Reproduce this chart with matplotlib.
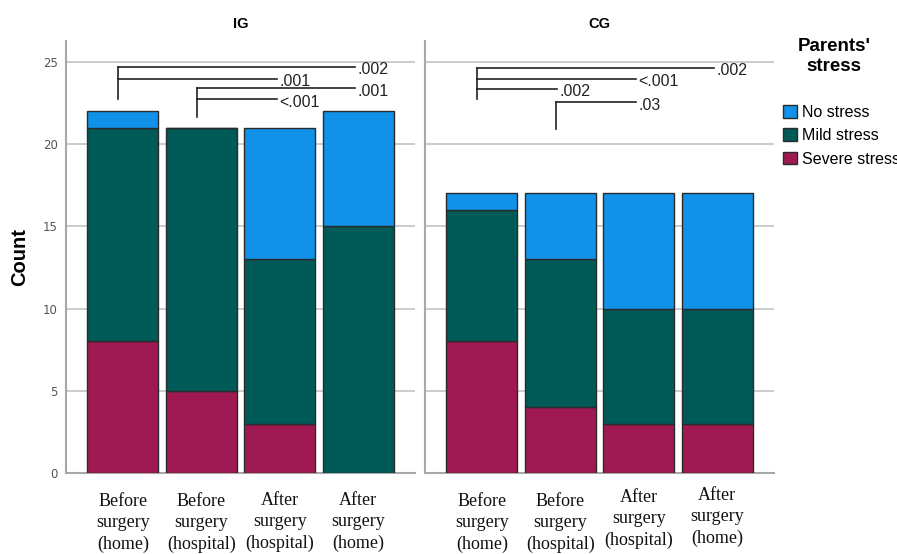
import numpy as np
import matplotlib
matplotlib.use('Agg')
import matplotlib.pyplot as plt
from matplotlib.patches import Patch

# data
groups = ['IG', 'CG']
times = ['Before\nsurgery\n(home)', 'Before\nsurgery\n(hospital)',
         'After\nsurgery\n(hospital)', 'After\nsurgery\n(home)']
levels = ['No stress', 'Mild stress', 'Severe stress']

ig_severe = [8, 5, 3, 0]
ig_mild = [13, 16, 10, 15]
ig_none = [1, 0, 8, 7]

cg_severe = [8, 4, 3, 3]
cg_mild = [8, 9, 7, 7]
cg_none = [1, 4, 7, 7]

# pairwise comparisons (bar i, bar j, p value, bracket height)
ig_pairs = [(0, 3), (0, 2), (1, 3), (1, 2)]
ig_pvals = ['.002', '.001', '.001', '<.001']
ig_heights = [24.7, 23.97, 23.39, 22.72]
ig_stem_low = {0: 22.72, 1: 21.62}
cg_pairs = [(0, 3), (0, 2), (0, 1), (1, 2)]
cg_pvals = ['.002', '<.001', '.002', '.03']
cg_heights = [24.64, 23.95, 23.34, 22.53]
cg_stem_low = {0: 22.72, 1: 20.89}

col_none = '#1192e8'
col_mild = '#005a58'
col_severe = '#9f1a52'
grid_col = '#cccccc'
spine_col = '#a8a8a8'

fig = plt.figure(figsize=(8.97, 5.54), dpi=100)
W, H = 897.0, 554.0
ax_bottom = (H - 473) / H
ax_h = (473 - 40.7) / H
ax1 = fig.add_axes([66 / W, ax_bottom, 349 / W, ax_h])
ax2 = fig.add_axes([425 / W, ax_bottom, 349 / W, ax_h])

x = np.arange(len(times))
ax_px_h = 473 - 40.7
label_shift = {'IG': [0, 0, -1, -1], 'CG': [0, 0, -4, -6]}


def draw_panel(ax, name, severe, mild, none, pairs, pvals, heights, stem_low, show_y):
    severe = np.array(severe)
    mild = np.array(mild)
    none = np.array(none)
    ax.set_axisbelow(True)
    ax.yaxis.grid(True, color=grid_col, lw=1.4)
    ax.bar(x, severe, 0.9, color=col_severe, edgecolor='#2a2a2a', lw=1, zorder=3)
    ax.bar(x, mild, 0.9, bottom=severe, color=col_mild, edgecolor='#2a2a2a', lw=1, zorder=3)
    ax.bar(x, none, 0.9, bottom=severe + mild, color=col_none, edgecolor='#2a2a2a', lw=1, zorder=3)
    ax.set_xlim(-0.723, 3.723)
    ax.set_ylim(0, 26.28)
    ax.set_yticks([0, 5, 10, 15, 20, 25])
    ax.set_xticks([])
    for s in ['top', 'right']:
        ax.spines[s].set_visible(False)
    for s in ['left', 'bottom']:
        ax.spines[s].set_color(spine_col)
        ax.spines[s].set_linewidth(1.5)
    ax.tick_params(axis='y', length=0, pad=6, labelsize=8.5, labelcolor='#555555')
    if not show_y:
        ax.set_yticklabels([])
    ax.set_title(name, fontsize=10.5, fontweight='bold', pad=9, family='Liberation Sans')
    # category labels below bars
    for i, t in enumerate(times):
        dy = label_shift[name][i]
        ax.text(x[i], -(493 - 473 + dy) / ax_px_h, t, transform=ax.get_xaxis_transform(),
                ha='center', va='top', fontsize=13, family='Liberation Serif',
                linespacing=1.34, color='#111111')
    # comparison brackets
    tops = {}
    for (i, j), p, h in zip(pairs, pvals, heights):
        x0 = i - 0.06
        x1 = j - 0.04
        ax.plot([x0, x1], [h, h], color='#222222', lw=1.2, zorder=4)
        tops[i] = max(tops.get(i, 0), h)
        ax.annotate(p, (x1, h), xytext=(2, -2), textcoords='offset points',
                    ha='left', va='center', fontsize=11.5, family='Liberation Sans',
                    color='#222222')
    for i, top in tops.items():
        ax.plot([i - 0.06, i - 0.06], [stem_low[i], top], color='#222222', lw=1.2, zorder=4)


draw_panel(ax1, 'IG', ig_severe, ig_mild, ig_none, ig_pairs, ig_pvals, ig_heights, ig_stem_low, True)
draw_panel(ax2, 'CG', cg_severe, cg_mild, cg_none, cg_pairs, cg_pvals, cg_heights, cg_stem_low, False)

ax1.set_ylabel('Count', fontsize=14.5, fontweight='bold', family='Liberation Sans', labelpad=10)

# legend (the last label runs off the right edge, as in the original)
fig.text(834 / W, 1 - 56.5 / H, "Parents'\nstress", ha='center', va='center',
         fontsize=13.5, fontweight='bold', family='Liberation Sans', linespacing=1.3)
handles = [Patch(facecolor=c, edgecolor='#2a2a2a', lw=1) for c in [col_none, col_mild, col_severe]]
fig.legend(handles, levels, loc='upper left', bbox_to_anchor=(783 / W, 1 - 105 / H),
           frameon=False, handlelength=0.85, handleheight=0.85, handletextpad=0.35,
           labelspacing=0.52, borderaxespad=0, borderpad=0,
           prop={'family': 'Liberation Sans', 'size': 11.5})

plt.savefig('out.png', dpi=100)
